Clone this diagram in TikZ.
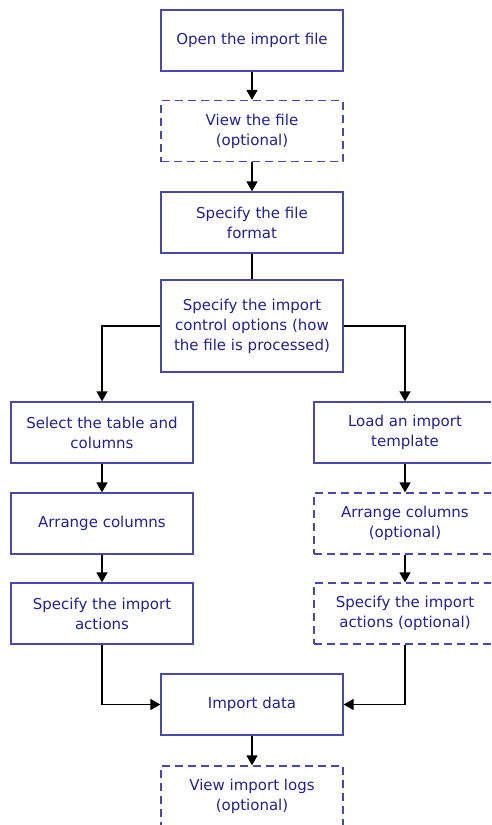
\documentclass[tikz,border=0pt]{standalone}
\usepackage{fontspec}
\setmainfont{DejaVu Sans}
\usetikzlibrary{arrows.meta}
\definecolor{boxline}{HTML}{4A4AA6}
\definecolor{boxtext}{HTML}{22228E}
\tikzset{
  stepbox/.style={draw=boxline, line width=1.3pt, fill=white, text=boxtext,
    minimum width=182pt, minimum height=61pt, inner sep=0pt,
    align=center, font=\fontsize{15}{20}\selectfont},
  optbox/.style={stepbox, dash pattern=on 8pt off 5pt},
  link/.style={draw=black, line width=1.5pt},
  flow/.style={link, -{Triangle[length=10pt,width=11pt]}}
}
\begin{document}
\begin{tikzpicture}[x=1pt,y=-1pt]
  \clip (0,0) rectangle (491,825);
  \fill[white] (0,0) rectangle (491,825);

  % main column
  \node[stepbox] (open)   at (252,40.5)  {Open the import file};
  \node[optbox]  (view)   at (252,131)   {View the file\\(optional)};
  \node[stepbox] (format) at (252,222.5) {Specify the file\\format};
  \node[stepbox, minimum height=92pt] (ctrl) at (252,326)
    {Specify the import\\control options (how\\the file is processed)};

  % left branch
  \node[stepbox] (table)   at (102,432.5) {Select the table and\\columns};
  \node[stepbox] (arrL)    at (102,523.5) {Arrange columns};
  \node[stepbox] (actL)    at (102,613.5) {Specify the import\\actions};

  % right branch
  \node[stepbox] (tmpl)    at (405,432.5) {Load an import\\template};
  \node[optbox]  (arrR)    at (405,523.5) {Arrange columns\\(optional)};
  \node[optbox]  (actR)    at (405,613.5) {Specify the import\\actions (optional)};

  % final steps
  \node[stepbox] (import)  at (252,704.5) {Import data};
  \node[optbox]  (logs)    at (252,796.5) {View import logs\\(optional)};

  % connectors
  \draw[flow] (open) -- (view);
  \draw[flow] (view) -- (format);
  \draw[link] (format) -- (ctrl);
  \draw[flow] (ctrl.west) -| (table.north);
  \draw[flow] (ctrl.east) -| (tmpl.north);
  \draw[flow] (table) -- (arrL);
  \draw[flow] (arrL) -- (actL);
  \draw[flow] (tmpl) -- (arrR);
  \draw[flow] (arrR) -- (actR);
  \draw[flow] (actL.south) |- (import.west);
  \draw[flow] (actR.south) |- (import.east);
  \draw[flow] (import) -- (logs);
\end{tikzpicture}
\end{document}
